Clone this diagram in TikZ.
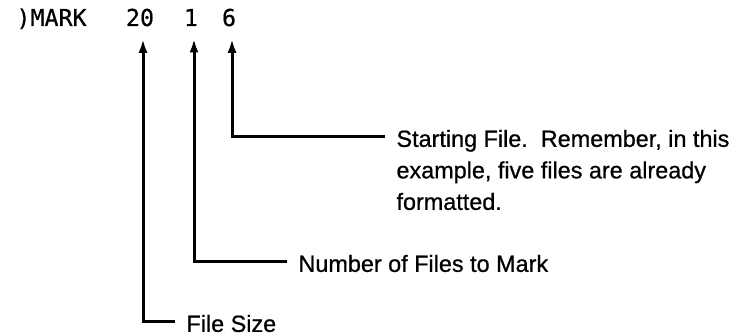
\documentclass[tikz,border=0pt]{standalone}
\usepackage{fontspec}
\setmainfont{Liberation Sans}[FakeBold=0.7]
\newfontfamily\termfont{DejaVu Sans Mono}[FakeBold=0.5]
\usetikzlibrary{positioning,arrows.meta}
\tikzstyle{cmd}=[inner sep=0pt,anchor=base,font=\termfont\fontsize{23.3}{24}\selectfont]
\tikzstyle{note}=[inner sep=0pt,anchor=north west,align=left,font=\fontsize{23.4}{31.5}\selectfont]
\newcommand{\newNote}[3]{\node[note](#1) at (#2){#3};}
\newcommand{\newPointer}[2]{\draw[->] ([xshift=-10pt,yshift=-8.6pt]#1.north west) -| ([xshift=3pt,yshift=-11pt]#2.south);}

\begin{document}
\begin{tikzpicture}[x=1pt,y=-1pt,
    >={Latex[length=14pt,width=9pt]},line width=3pt
    ]
    \useasboundingbox (0,0) rectangle (748,336);
    % command line
    \node[cmd,anchor=base west](mark) at (15,26){)MARK};
    \node[cmd](size) at (140,26){20};
    \node[cmd](count) at (191,26){1};
    \node[cmd](start) at (229,26){6};
    % notes
    \newNote{startNote}{395,128.4}{Starting File.\ \ Remember, in this\\example, five files are already\\formatted.}
    \newNote{countNote}{297,253.4}{Number of Files to Mark}
    \newNote{sizeNote}{185,313.4}{File Size}
    \newPointer{startNote}{start}
    \newPointer{countNote}{count}
    \newPointer{sizeNote}{size}
\end{tikzpicture}
\end{document}
